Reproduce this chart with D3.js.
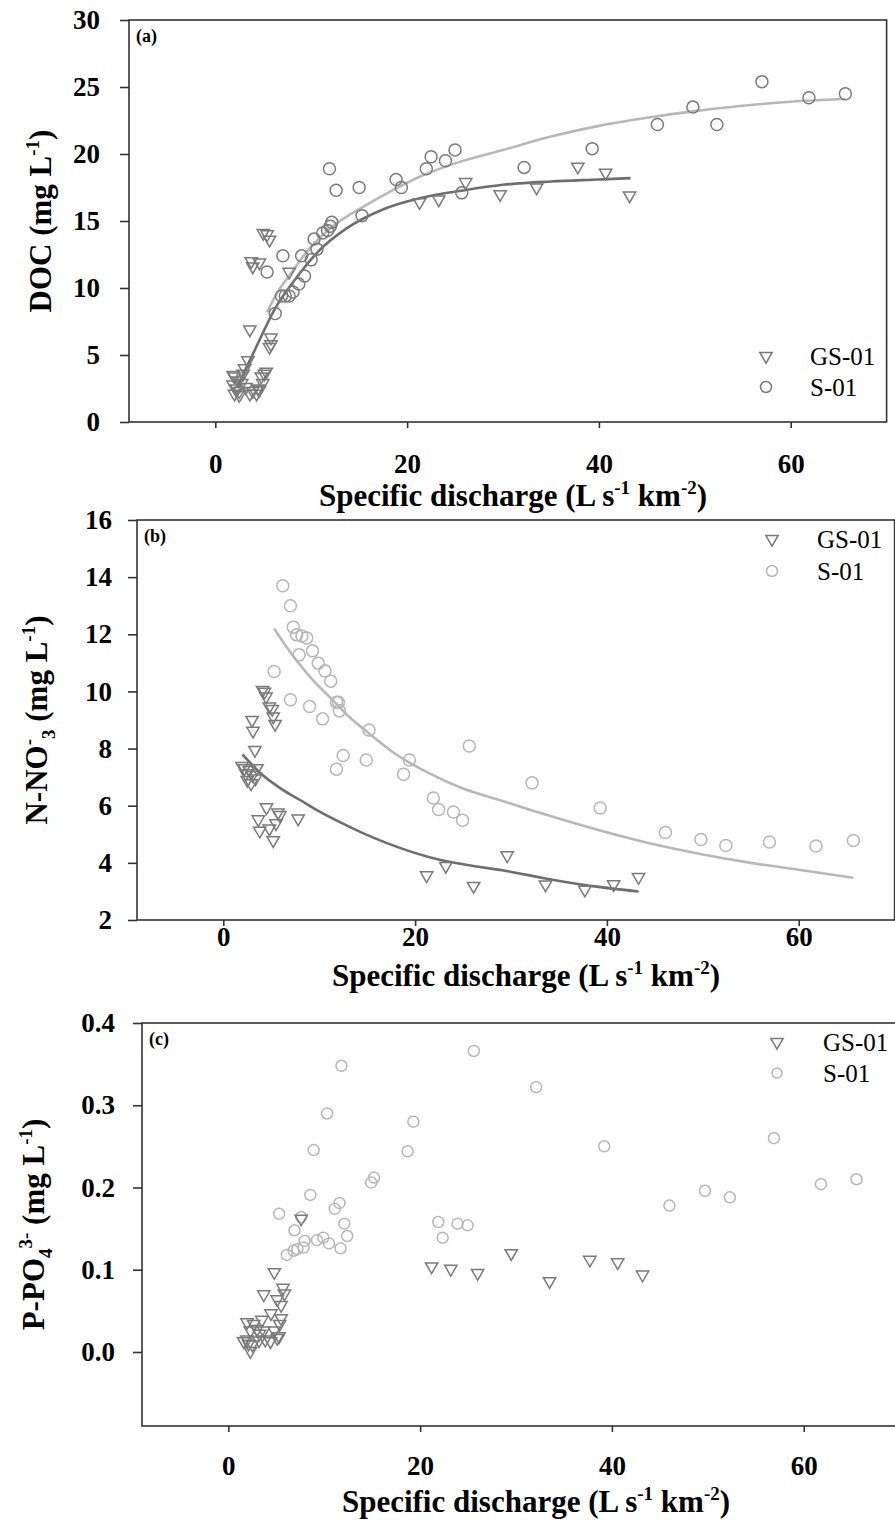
<!DOCTYPE html>
<html>
<head>
<meta charset="utf-8">
<script src="https://cdn.jsdelivr.net/npm/d3@7/dist/d3.min.js"></script>
<style>
  body { margin: 0; background: #fff; }
  svg { display: block; }
  text { font-family: "Liberation Serif", "Times New Roman", Times, "DejaVu Serif", serif; }
</style>
</head>
<body>
<div id="chart"></div>
<script>
// ---- data: [specific discharge, concentration] ----

// (a) DOC
const docGS = [
  [5.0,14.1],[5.4,14.0],[5.65,13.6],[3.75,12.0],[3.9,11.6],[4.6,11.9],[7.7,11.2],
  [3.6,6.9],[5.8,6.3],[5.8,5.8],[5.65,5.6],[3.4,4.6],[3.05,4.0],[2.9,3.6],[2.0,3.4],
  [2.4,3.1],[2.75,2.9],[1.85,2.8],[2.2,2.5],[2.5,2.3],[2.0,2.1],[2.5,2.0],[1.85,3.5],
  [5.3,3.75],[5.1,3.6],[4.8,3.4],[4.95,2.9],[4.45,2.5],[3.9,2.3],[3.6,2.1],[4.3,2.1],
  [4.6,2.4],[3.2,2.6],
  [21.3,16.4],[23.3,16.6],[26.1,17.9],[29.7,17.0],[33.5,17.5],[37.8,19.05],[40.7,18.6],[43.2,16.9]
];
const docS01 = [
  [11.9,18.9],[12.6,17.3],[15.0,17.5],[15.3,15.4],[18.85,18.1],[19.4,17.5],[22.0,18.9],
  [22.5,19.8],[24.0,19.5],[25.0,20.3],[25.7,17.1],[7.05,12.4],[5.4,11.2],[6.25,8.1],
  [9.0,12.4],[10.3,13.65],[10.6,12.9],[10.0,12.1],[9.3,10.9],[8.7,10.3],[8.1,9.7],
  [6.9,9.4],[7.3,9.4],[7.7,9.4],[11.2,14.1],[11.7,14.3],[12.0,14.6],[12.15,14.9],
  [32.2,19.0],[39.3,20.4],[46.1,22.2],[49.8,23.5],[52.3,22.2],[57.0,25.4],[61.9,24.2],[65.7,24.5]
];
const docGSFit = [
  [2.4,2.8],[3.2,4.0],[4.4,5.8],[6.1,8.3],[8.6,10.9],[10.7,12.7],[13.8,14.5],[17.6,15.9],
  [21.3,16.7],[26,17.3],[30,17.7],[35,17.95],[40,18.1],[43.3,18.2]
];
const docS01Fit = [
  [5.4,8.2],[6.5,9.7],[7.9,11.1],[9.2,12.4],[10.7,13.6],[13,15.0],[15.5,16.1],[18,17.1],
  [21.3,18.3],[25,19.3],[30,20.3],[35,21.3],[40,22.1],[45,22.7],[50,23.2],[55,23.6],[60,23.9],[65.7,24.1]
];

// (b) N-NO3-
const no3GS = [
  [4.1,10.05],[4.3,9.99],[4.45,9.82],[4.8,9.47],[5.1,9.38],[5.2,9.12],[5.4,8.86],[3.0,9.0],
  [3.1,8.62],[3.3,7.95],[1.95,7.39],[2.2,7.31],[2.35,7.13],[2.7,7.25],[3.05,7.07],[2.9,6.78],
  [3.5,7.31],[3.35,6.95],[2.5,6.9],[4.5,5.94],[5.7,5.76],[5.9,5.67],[5.5,5.38],[3.65,5.52],
  [3.8,5.12],[4.8,5.2],[5.2,4.79],[7.8,5.55],
  [21.2,3.56],[23.2,3.89],[26.1,3.19],[29.6,4.26],[33.6,3.24],[37.7,3.06],[40.7,3.25],[43.3,3.5]
];
const no3S01 = [
  [6.2,13.7],[7.0,13.0],[7.3,12.25],[7.65,11.98],[8.2,11.94],[8.7,11.87],[7.9,11.28],
  [9.3,11.42],[9.9,10.99],[10.6,10.72],[11.2,10.36],[11.8,9.62],[12.0,9.62],[12.1,9.32],
  [5.3,10.7],[7.0,9.71],[9.0,9.47],[10.35,9.04],[15.2,8.65],[12.5,7.76],[11.8,7.28],
  [14.9,7.6],[19.4,7.6],[18.8,7.1],[25.65,8.09],[21.9,6.27],[22.45,5.87],[24.0,5.78],[24.95,5.49],
  [32.2,6.8],[39.3,5.92],[46.1,5.06],[49.8,4.82],[52.4,4.61],[56.95,4.73],[61.8,4.59],[65.7,4.78]
];
const no3GSFit = [
  [2.0,7.8],[4,7.1],[6,6.6],[8,6.2],[10,5.8],[12,5.45],[14.5,5.05],[17,4.7],[21.5,4.2],
  [25,3.95],[29.8,3.7],[33.6,3.45],[37.7,3.22],[43.3,3.0]
];
const no3S01Fit = [
  [5.3,12.2],[6.5,11.6],[7.6,11.1],[9.2,10.45],[11.05,9.82],[13,9.15],[15.2,8.53],[18,7.8],
  [21.5,7.13],[25,6.6],[28.8,6.2],[33,5.75],[39.2,5.14],[44,4.72],[49.6,4.32],[55,4.0],[60,3.76],[65.7,3.48]
];

// (c) P-PO4 3-
const po4GS = [
  [7.6,0.162],[4.8,0.097],[3.7,0.070],[5.7,0.078],[5.85,0.071],[5.1,0.064],[5.5,0.057],
  [4.45,0.047],[3.5,0.039],[5.5,0.041],[5.35,0.034],[1.95,0.036],[2.65,0.034],[3.0,0.028],
  [2.3,0.026],[3.7,0.026],[4.8,0.026],[1.95,0.015],[2.5,0.009],[2.3,0.001],[3.2,0.014],
  [3.85,0.015],[4.4,0.013],[5.1,0.017],[5.3,0.019],[3.25,0.022],[1.6,0.013],[2.1,0.010],
  [21.2,0.104],[23.2,0.101],[26.0,0.096],[29.5,0.120],[33.5,0.086],[37.7,0.112],[40.6,0.109],[43.2,0.094]
];
const po4S01 = [
  [11.8,0.348],[10.3,0.290],[8.9,0.2455],[25.6,0.366],[19.3,0.280],[18.7,0.244],[14.9,0.206],
  [15.2,0.212],[8.55,0.191],[5.3,0.168],[11.6,0.181],[11.1,0.174],[12.1,0.156],[12.4,0.141],
  [11.7,0.126],[10.5,0.132],[9.9,0.139],[9.25,0.136],[7.95,0.135],[7.85,0.127],[7.2,0.125],
  [6.8,0.123],[6.1,0.118],[6.9,0.148],[7.6,0.164],[21.9,0.158],[22.35,0.139],[23.9,0.156],[24.95,0.154],
  [32.1,0.322],[39.2,0.250],[46.0,0.178],[49.7,0.196],[52.3,0.188],[56.9,0.260],[61.8,0.204],[65.5,0.210]
];

const xTicks = [0, 20, 40, 60];
const docTicks = [0, 5, 10, 15, 20, 25, 30];
const no3Ticks = [2, 4, 6, 8, 10, 12, 14, 16];
const po4Ticks = [0.0, 0.1, 0.2, 0.3, 0.4];
const seriesNames = ["GS-01", "S-01"];

// ---- drawing ----
const W = 895, H = 1524;
const FONT = "'Liberation Serif', 'Times New Roman', Times, 'DejaVu Serif', serif";
const svg = d3.select("#chart").append("svg").attr("width", W).attr("height", H)
  .style("font-family", FONT);

const dark = "#7a7a7a", light = "#b6b6b6", frameCol = "#333";
const tri = d3.symbol().type(d3.symbolTriangle).size(66);

function drawPanel(p) {
  const x = d3.scaleLinear().domain([-9, 70]).range([p.left, p.left + 757.6]);
  const y = d3.scaleLinear().domain(p.yDomain).range([p.bottom, p.top]);
  const g = svg.append("g");

  // frame
  g.append("rect")
    .attr("x", p.left).attr("y", p.top)
    .attr("width", x.range()[1] - p.left).attr("height", p.bottom - p.top)
    .attr("fill", "none").attr("stroke", frameCol).attr("stroke-width", 1.6);

  const xAxis = g.append("g").attr("transform", "translate(0," + p.bottom + ")")
    .call(d3.axisBottom(x).tickValues(xTicks).tickSize(6).tickSizeOuter(0).tickPadding(p.xPad));
  const yAxis = g.append("g").attr("transform", "translate(" + p.left + ",0)")
    .call(d3.axisLeft(y).tickValues(p.yTicks).tickSize(9).tickSizeOuter(0)
      .tickPadding(p.yPad).tickFormat(d3.format(p.fmt)));
  [xAxis, yAxis].forEach(a => {
    a.attr("font-family", null).attr("font-size", null);
    a.select(".domain").remove();
    a.selectAll("line").attr("stroke", frameCol).attr("stroke-width", 1.6);
    a.selectAll("text").attr("fill", "#000").style("font-size", "27px")
      .style("font-weight", "bold").style("font-family", FONT);
  });

  // fitted curves
  const line = d3.line().x(d => x(d[0])).y(d => y(d[1])).curve(d3.curveMonotoneX);
  if (p.fitS) g.append("path").datum(p.fitS).attr("d", line)
    .attr("fill", "none").attr("stroke", "#b8b8b8").attr("stroke-width", 2.6);
  if (p.fitG) g.append("path").datum(p.fitG).attr("d", line)
    .attr("fill", "none").attr("stroke", "#6e6e6e").attr("stroke-width", 2.6);

  // points
  g.selectAll(".s01").data(p.s01).join("circle")
    .attr("cx", d => x(d[0])).attr("cy", d => y(d[1])).attr("r", p.r)
    .attr("fill", "none").attr("stroke", p.sCol).attr("stroke-width", 1.5);
  g.selectAll(".gs").data(p.gs).join("path")
    .attr("d", tri)
    .attr("transform", d => "translate(" + x(d[0]) + "," + y(d[1]) + ") rotate(180)")
    .attr("fill", "none").attr("stroke", dark).attr("stroke-width", 1.5);

  // legend
  const lg = p.legend;
  g.append("path").attr("d", tri)
    .attr("transform", "translate(" + lg.x + "," + lg.y1 + ") rotate(180)")
    .attr("fill", "none").attr("stroke", dark).attr("stroke-width", 1.5);
  g.append("circle").attr("cx", lg.x).attr("cy", lg.y2).attr("r", p.r - 0.5)
    .attr("fill", "none").attr("stroke", p.sCol).attr("stroke-width", 1.5);
  [lg.y1, lg.y2].forEach((yy, i) => {
    g.append("text").attr("x", lg.tx).attr("y", yy + 9)
      .style("font-size", "25px").text(seriesNames[i]);
  });

  // panel letter
  g.append("text").attr("x", p.left + 7).attr("y", p.top + 22)
    .style("font-size", "18px").style("font-weight", "bold").text(p.letter);

  // x title
  const xt = g.append("text").attr("x", p.xTitleX).attr("y", p.xTitleY)
    .attr("text-anchor", "middle").style("font-size", "31px").style("font-weight", "bold");
  xt.append("tspan").text("Specific discharge (L s");
  xt.append("tspan").attr("dy", -12).style("font-size", "19px").text("-1");
  xt.append("tspan").attr("dy", 12).text(" km");
  xt.append("tspan").attr("dy", -12).style("font-size", "19px").text("-2");
  xt.append("tspan").attr("dy", 12).text(")");

  // y title
  const yt = g.append("text")
    .attr("transform", "translate(" + p.yTitleX + "," + ((p.top + p.bottom) / 2) + ") rotate(-90)")
    .attr("text-anchor", "middle").style("font-size", "31px").style("font-weight", "bold");
  p.yTitle.forEach(t => {
    const s = yt.append("tspan").text(t.s);
    if (t.dy) s.attr("dy", t.dy);
    if (t.small) s.style("font-size", "19px");
  });
}

drawPanel({
  letter: "(a)", left: 129, top: 20, bottom: 422, yDomain: [0, 30], yTicks: docTicks, fmt: "d",
  xPad: 26, yPad: 20, r: 6, sCol: dark,
  gs: docGS, s01: docS01, fitG: docGSFit, fitS: docS01Fit,
  legend: { x: 766, y1: 356, y2: 387, tx: 810 },
  xTitleX: 513, xTitleY: 506, yTitleX: 51,
  yTitle: [{ s: "DOC (mg L" }, { s: "-1", dy: -12, small: true }, { s: ")", dy: 12 }]
});

drawPanel({
  letter: "(b)", left: 137, top: 520, bottom: 920, yDomain: [2, 16], yTicks: no3Ticks, fmt: "d",
  xPad: 1, yPad: 16, r: 6, sCol: light,
  gs: no3GS, s01: no3S01, fitG: no3GSFit, fitS: no3S01Fit,
  legend: { x: 772, y1: 539, y2: 571, tx: 817 },
  xTitleX: 526, xTitleY: 986, yTitleX: 47,
  yTitle: [{ s: "N-NO" }, { s: "-", dy: -12, small: true }, { s: "3", dy: 20, small: true },
           { s: " (mg L", dy: -8 }, { s: "-1", dy: -12, small: true }, { s: ")", dy: 12 }]
});

drawPanel({
  letter: "(c)", left: 142, top: 1023, bottom: 1426, yDomain: [-0.09, 0.4], yTicks: po4Ticks, fmt: ".1f",
  xPad: 24, yPad: 18, r: 5.5, sCol: light,
  gs: po4GS, s01: po4S01, fitG: null, fitS: null,
  legend: { x: 777, y1: 1042, y2: 1073, tx: 823 },
  xTitleX: 536, xTitleY: 1512, yTitleX: 44,
  yTitle: [{ s: "P-PO" }, { s: "4", dy: 8, small: true }, { s: "3-", dy: -20, small: true },
           { s: " (mg L", dy: 12 }, { s: "-1", dy: -12, small: true }, { s: ")", dy: 12 }]
});
</script>
</body>
</html>
